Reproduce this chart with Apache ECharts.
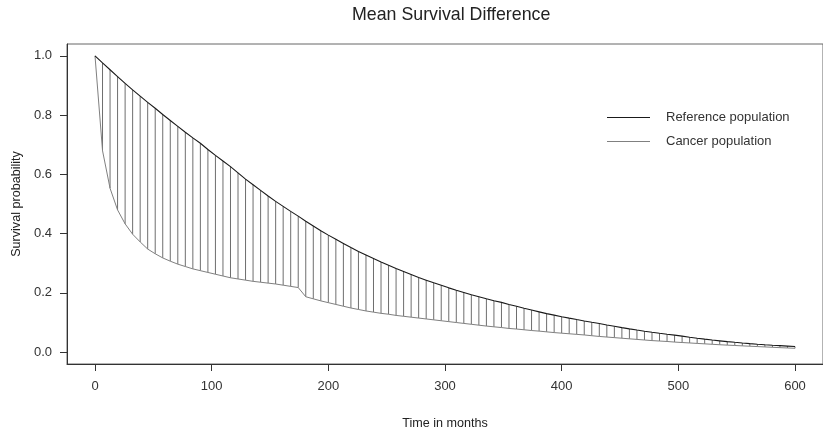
<!DOCTYPE html>
<html>
<head>
<meta charset="utf-8">
<script src="https://cdn.jsdelivr.net/npm/echarts@6/dist/echarts.min.js"></script>
<style>
  html, body { margin: 0; padding: 0; background: #fff; }
  #chart { width: 823px; height: 435px; }
</style>
</head>
<body>
<div id="chart"></div>
<script>
// Follow-up times (months) at which both survival curves are evaluated
const times = [
  0, 6.45, 12.90, 19.35, 25.81, 32.26, 38.71, 45.16, 51.61, 58.06,
  64.52, 70.97, 77.42, 83.87, 90.32, 96.77, 103.23, 109.68, 116.13, 122.58,
  129.03, 135.48, 141.94, 148.39, 154.84, 161.29, 167.74, 174.19, 180.65, 187.10,
  193.55, 200.00, 206.45, 212.90, 219.35, 225.81, 232.26, 238.71, 245.16, 251.61,
  258.06, 264.52, 270.97, 277.42, 283.87, 290.32, 296.77, 303.23, 309.68, 316.13,
  322.58, 329.03, 335.48, 341.94, 348.39, 354.84, 361.29, 367.74, 374.19, 380.65,
  387.10, 393.55, 400.00, 406.45, 412.90, 419.35, 425.81, 432.26, 438.71, 445.16,
  451.61, 458.06, 464.52, 470.97, 477.42, 483.87, 490.32, 496.77, 503.23, 509.68,
  516.13, 522.58, 529.03, 535.48, 541.94, 548.39, 554.84, 561.29, 567.74, 574.19,
  580.65, 587.10, 593.55, 600.00
];

// Expected survival of the matched general population
const referenceSurvival = [
  1.000, 0.976, 0.953, 0.930, 0.907, 0.885, 0.864, 0.843, 0.823, 0.802,
  0.782, 0.762, 0.742, 0.723, 0.705, 0.684, 0.664, 0.645, 0.626, 0.605,
  0.584, 0.565, 0.546, 0.527, 0.509, 0.492, 0.475, 0.459, 0.442, 0.426,
  0.410, 0.395, 0.381, 0.367, 0.353, 0.340, 0.328, 0.316, 0.304, 0.293,
  0.282, 0.272, 0.262, 0.252, 0.243, 0.234, 0.2255, 0.217, 0.209, 0.2016,
  0.194, 0.187, 0.180, 0.1735, 0.168, 0.161, 0.1546, 0.148, 0.142, 0.136,
  0.130, 0.125, 0.1197, 0.1147, 0.110, 0.1054, 0.101, 0.0968, 0.0918, 0.0872,
  0.0827, 0.0785, 0.0745, 0.0707, 0.0671, 0.0637, 0.0604, 0.0574, 0.0541, 0.0505,
  0.0471, 0.0439, 0.0409, 0.0382, 0.0356, 0.0332, 0.0310, 0.0289, 0.0269, 0.0251,
  0.0234, 0.0219, 0.0204, 0.0190
];

// Observed survival of the cancer patients
const cancerSurvival = [
  1.000, 0.680, 0.553, 0.480, 0.433, 0.398, 0.372, 0.348, 0.332, 0.318,
  0.307, 0.297, 0.289, 0.281, 0.275, 0.269, 0.263, 0.257, 0.251, 0.247,
  0.243, 0.239, 0.236, 0.233, 0.230, 0.226, 0.222, 0.218, 0.187, 0.180,
  0.173, 0.167, 0.161, 0.155, 0.149, 0.144, 0.139, 0.135, 0.131, 0.128,
  0.124, 0.121, 0.118, 0.115, 0.112, 0.109, 0.106, 0.103, 0.100, 0.097,
  0.094, 0.091, 0.088, 0.0855, 0.083, 0.080, 0.078, 0.0755, 0.073, 0.071,
  0.0685, 0.066, 0.064, 0.062, 0.060, 0.058, 0.0555, 0.053, 0.051, 0.049,
  0.047, 0.045, 0.043, 0.041, 0.039, 0.0375, 0.036, 0.034, 0.0325, 0.031,
  0.0295, 0.028, 0.0265, 0.025, 0.0237, 0.0225, 0.0212, 0.020, 0.0188, 0.0176,
  0.0164, 0.0152, 0.0141, 0.013
];

const xTicks = [0, 100, 200, 300, 400, 500, 600];
const yTicks = [0, 0.2, 0.4, 0.6, 0.8, 1.0];

const FONT = '"Liberation Sans", Arial, Helvetica, sans-serif';

const refPoints = times.map((t, i) => [t, referenceSurvival[i]]);
const cancerPoints = times.map((t, i) => [t, cancerSurvival[i]]);
const gapPoints = times.map((t, i) => [t, referenceSurvival[i], cancerSurvival[i]]);

const chart = echarts.init(document.getElementById('chart'), null, { renderer: 'canvas' });

chart.setOption({
  animation: false,
  backgroundColor: '#ffffff',
  title: {
    text: 'Mean Survival Difference',
    left: 347,
    top: 1,
    textStyle: { fontFamily: FONT, fontSize: 17.8, fontWeight: 'normal', color: '#222' }
  },
  legend: {
    orient: 'vertical',
    left: 602,
    top: 106,
    icon: 'rect',
    itemWidth: 43,
    itemHeight: 1,
    itemGap: 11,
    textStyle: { fontFamily: FONT, fontSize: 13, color: '#333', padding: [0, 0, 0, 11] },
    data: ['Reference population', 'Cancer population']
  },
  grid: {
    left: 67,
    top: 44,
    width: 758,
    height: 323,
    show: true,
    borderColor: '#666',
    borderWidth: 1,
    containLabel: false
  },
  xAxis: {
    type: 'value',
    min: -24,
    max: 624,
    name: 'Time in months',
    nameLocation: 'middle',
    nameGap: 53,
    nameTextStyle: { fontFamily: FONT, fontSize: 12.6, color: '#222' },
    axisLine: { show: true, onZero: false, lineStyle: { color: '#333', width: 1 } },
    axisTick: { show: true, length: 7, customValues: xTicks, lineStyle: { color: '#333' } },
    axisLabel: {
      customValues: xTicks,
      margin: 16,
      fontFamily: FONT, fontSize: 13, color: '#333'
    },
    splitLine: { show: false }
  },
  yAxis: {
    type: 'value',
    min: -0.04,
    max: 1.04,
    name: 'Survival probability',
    nameLocation: 'middle',
    nameGap: 44,
    nameTextStyle: { fontFamily: FONT, fontSize: 12.6, color: '#222' },
    axisLine: { show: true, onZero: false, lineStyle: { color: '#333', width: 1 } },
    axisTick: { show: true, length: 7, customValues: yTicks, lineStyle: { color: '#333' } },
    axisLabel: {
      customValues: yTicks,
      margin: 15,
      fontFamily: FONT, fontSize: 13, color: '#333',
      formatter: v => v.toFixed(1)
    },
    splitLine: { show: false }
  },
  series: [
    {
      // vertical hatching between the two curves
      name: 'gap',
      type: 'custom',
      silent: true,
      z: 1,
      data: gapPoints,
      encode: { x: 0, y: [1, 2] },
      renderItem: function (params, api) {
        const top = api.coord([api.value(0), api.value(1)]);
        const bottom = api.coord([api.value(0), api.value(2)]);
        return {
          type: 'line',
          shape: { x1: top[0], y1: top[1], x2: bottom[0], y2: bottom[1] },
          style: { stroke: '#6e6e6e', lineWidth: 1 }
        };
      }
    },
    {
      name: 'Reference population',
      type: 'line',
      z: 3,
      data: refPoints,
      symbol: 'none',
      color: '#1a1a1a',
      lineStyle: { color: '#1a1a1a', width: 1.1 }
    },
    {
      name: 'Cancer population',
      type: 'line',
      z: 2,
      data: cancerPoints,
      symbol: 'none',
      color: '#808080',
      lineStyle: { color: '#808080', width: 1 }
    }
  ]
});
</script>
</body>
</html>
